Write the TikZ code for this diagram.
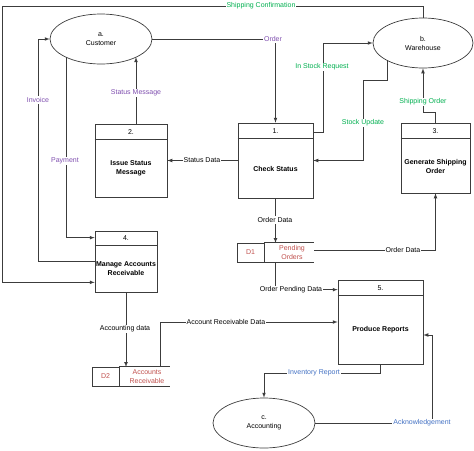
\documentclass[tikz,border=0pt]{standalone}
\usepackage{fontspec}
\setmainfont{Liberation Sans}
\usetikzlibrary{calc}
\usetikzlibrary{positioning}
\usetikzlibrary{arrows}
\usetikzlibrary{shapes}
\definecolor{lpurple}{RGB}{128,80,176}
\definecolor{lgreen}{RGB}{0,176,80}
\definecolor{lred}{RGB}{192,80,77}
\definecolor{lblue}{RGB}{68,114,196}
\definecolor{lline}{RGB}{60,60,60}

\begin{document}
\begin{tikzpicture}[x=1pt, y=-1pt, >=latex, line width=0.7pt,
every node/.style={font=\fontsize{7}{9}\selectfont, inner sep=0pt},
ent/.style={draw=lline, ellipse, minimum width=102pt, minimum height=50pt, align=center},
proc/.style={draw=lline, rectangle},
ptxt/.style={align=center, font=\fontsize{7}{9}\selectfont\bfseries},
store/.style={draw=lline, rectangle, minimum width=27pt, minimum height=19pt, text=lred},
lbl/.style={fill=white, inner sep=1pt},
flow/.style={->, draw=lline}]

\useasboundingbox (0,0) rectangle (474,450);

% external entities
\node [ent] (cust) at (101,39) {a.\\Customer};
\node [ent, minimum width=100pt] (ware) at (423,43) {b.\\Warehouse};
\node [ent] (acct) at (264,423) {c.\\Accounting};

% processes
\node [proc, minimum width=75pt, minimum height=75pt] (p1) at (275.5,160.5) {};
\draw [lline] ($(p1.north west)+(0,16)$) -- ($(p1.north east)+(0,16)$);
\node (p1num) at (275.5,131) {1.};
\node [ptxt] (p1txt) at (275.5,168.5) {Check Status};

\node [proc, minimum width=72pt, minimum height=73pt] (p2) at (131,160.5) {};
\draw [lline] ($(p2.north west)+(0,16)$) -- ($(p2.north east)+(0,16)$);
\node (p2num) at (131,132) {2.};
\node [ptxt] (p2txt) at (131,168.5) {Issue Status\\Message};

\node [proc, minimum width=69pt, minimum height=70pt] (p3) at (435.5,158) {};
\draw [lline] ($(p3.north west)+(0,16)$) -- ($(p3.north east)+(0,16)$);
\node (p3num) at (435.5,131) {3.};
\node [ptxt] (p3txt) at (435.5,166) {Generate Shipping\\Order};

\node [proc, minimum width=62pt, minimum height=61pt] (p4) at (126,261.5) {};
\draw [lline] ($(p4.north west)+(0,15)$) -- ($(p4.north east)+(0,15)$);
\node (p4num) at (126,238.5) {4.};
\node [ptxt] (p4txt) at (126,268.5) {Manage Accounts\\Receivable};

\node [proc, minimum width=85pt, minimum height=84pt] (p5) at (380.5,322) {};
\draw [lline] ($(p5.north west)+(0,16)$) -- ($(p5.north east)+(0,16)$);
\node (p5num) at (380.5,288) {5.};
\node [ptxt] (p5txt) at (380.5,329.5) {Produce Reports};

% data stores
\node [store] (d1) at (250.5,252.5) {D1};
\draw [lline] (d1.north east) -- ++(50,0);
\draw [lline] (d1.south east) -- ++(50,0);
\node [text=lred, align=center] (d1txt) at (292,252.5) {Pending\\Orders};

\node [store] (d2) at (105.5,376.5) {D2};
\draw [lline] (d2.north east) -- ++(51,0);
\draw [lline] (d2.south east) -- ++(51,0);
\node [text=lred, align=center] (d2txt) at (147,376.5) {Accounts\\Receivable};

\coordinate (custsm) at (136,57.2);
\coordinate (custpay) at (66,57.2);
\coordinate (waresu) at (387,60.3);
\coordinate (d1top) at (275.5,243);
\coordinate (d1bot) at (275.5,262);
\coordinate (d1right) at (314,250);
\coordinate (d2top) at (126,367);
\coordinate (d2ar) at (160,367);

% flows
\draw [flow] (cust.east) -| (p1.north);
\node [lbl, text=lpurple] (lorder) at (273,39) {Order};

\draw [flow] ($(p2.north)+(5,0)$) -- (custsm);
\node [lbl, text=lpurple] (lstatmsg) at (136,93) {Status Message};

\draw [flow] (p4.west) -- ++(-56,0) |- (cust.west);
\node [lbl, text=lpurple] (linvoice) at (38,100) {Invoice};

\draw [flow] (custpay) |- ($(p4.north west)+(0,7)$);
\node [lbl, text=lpurple] (lpayment) at (65,161) {Payment};

\draw [flow] (p1.west) -- (p2.east);
\node [lbl] (lstatdata) at (202,160.5) {Status Data};

\draw [flow] ($(p1.north east)+(0,10)$) -- ++(10,0) |- (ware.west);
\node [lbl, text=lgreen] (lstockreq) at (322,67) {In Stock Request};

\draw [flow] (waresu) |- (363,80) |- (p1.east);
\node [lbl, text=lgreen] (lstockupd) at (363,123) {Stock Update};

\draw [flow] (p3.north) -- ++(0,-10) -| (ware.south);
\node [lbl, text=lgreen] (lshiporder) at (423,102) {Shipping Order};

\draw [flow] (ware.north) |- (2,6) |- ($(p4.south west)+(0,-10)$);
\node [lbl, text=lgreen] (lshipconf) at (261,6) {Shipping Confirmation};

\draw [flow] (p1.south) -- (d1top);
\node [lbl] (lorderdata) at (275,220) {Order Data};

\draw [flow] (d1right) -| (p3.south);
\node [lbl] (lorderdata2) at (403,250) {Order Data};

\draw [flow] (d1bot) |- ($(p5.north west)+(0,10)$);
\node [lbl] (lpending) at (291,290) {Order Pending Data};

\draw [flow] (p4.south) -- (d2top);
\node [lbl] (laccdata) at (125,329) {Accounting data};

\draw [flow] (d2ar) |- (p5.west);
\node [lbl] (lardata) at (226,322) {Account Receivable Data};

\draw [flow] (p5.south) -- ++(0,9) -| (acct.north);
\node [lbl, text=lblue] (linvrep) at (314,373) {Inventory Report};

\draw [flow] (acct.east) -| (432,335) -- ($(p5.east)+(0,13)$);
\node [lbl, text=lblue] (lack) at (422,423) {Acknowledgement};
\end{tikzpicture}
\end{document}
